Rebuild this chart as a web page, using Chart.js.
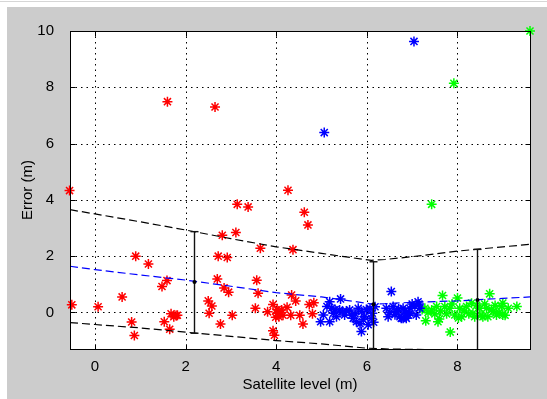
<!DOCTYPE html>
<html>
<head>
<meta charset="utf-8">
<script src="https://cdn.jsdelivr.net/npm/chart.js@4.4.1/dist/chart.umd.min.js"></script>
<style>
  html, body { margin: 0; padding: 0; background: #fff; }
  body { width: 547px; height: 399px; position: relative; overflow: hidden; }
  #topline { position: absolute; left: 0; top: 1px; width: 547px; height: 1px; background: #d6d6d6; }
  #frame { position: absolute; left: 7px; top: 7px; width: 540px; height: 392px; background: #cccccc; }
</style>
</head>
<body>
<div id="topline"></div>
<div id="frame"><canvas id="chart" width="540" height="392"></canvas></div>
<script>
/* ================= DATA ================= */
// [satellite level, error]
const redPoints = [
  [-0.56, 4.33], [-0.51, 0.27], [0.07, 0.2], [0.6, 0.55], [0.81, -0.34], [0.87, -0.82],
  [0.9, 2.0], [1.18, 1.72], [1.48, 0.92], [1.53, -0.33], [1.59, 1.13], [1.6, 7.49],
  [1.65, -0.6], [1.68, -0.05], [1.74, -0.15], [1.79, -0.11], [1.82, -0.1], [2.5, 0.41],
  [2.52, -0.03], [2.58, 0.23], [2.65, 7.3], [2.7, 1.19], [2.72, 2.0], [2.77, -0.41],
  [2.81, 2.74], [2.85, 0.87], [2.92, 1.95], [2.95, 0.72], [3.03, -0.1], [3.11, 2.84],
  [3.14, 3.84], [3.38, 3.75], [3.54, 0.15], [3.57, 1.14], [3.6, 0.68], [3.65, 2.28],
  [3.81, 0.02], [3.93, 0.28], [3.93, -0.65], [3.96, -0.81], [3.99, -0.17], [4.02, -0.03],
  [4.02, 0.1], [4.05, 0.0], [4.06, -0.15], [4.12, 0.09], [4.15, -0.1], [4.24, 0.18],
  [4.26, 4.34], [4.32, -0.1], [4.34, 0.62], [4.37, 2.23], [4.43, 0.41], [4.52, -0.1],
  [4.59, -0.41], [4.62, 3.56], [4.7, 3.11], [4.73, 0.28], [4.8, -0.05], [4.83, 0.34]
];

const bluePoints = [
  [4.98, -0.33], [5.04, -0.09], [5.06, 6.39], [5.12, 0.21], [5.18, 0.38], [5.18, -0.33],
  [5.22, 0.15], [5.26, -0.03], [5.3, 0.1], [5.33, -0.15], [5.4, 0.09], [5.42, 0.48],
  [5.46, 0.02], [5.51, -0.09], [5.55, 0.05], [5.62, 0.09], [5.66, -0.1], [5.7, -0.21],
  [5.74, -0.05], [5.77, -0.33], [5.81, 0.15], [5.85, -0.4], [5.88, 0.03], [5.88, -0.68],
  [5.92, -0.25], [5.95, -0.15], [5.99, 0.1], [6.03, -0.44], [6.07, 0.15], [6.1, -0.21],
  [6.12, -0.03], [6.15, -0.35], [6.18, 0.2], [6.43, 0.15], [6.47, -0.15], [6.5, 0.0],
  [6.54, 0.74], [6.58, 0.21], [6.62, -0.08], [6.65, 0.03], [6.7, 0.12], [6.73, -0.15],
  [6.76, -0.21], [6.8, 0.15], [6.8, -0.21], [6.84, 0.05], [6.87, -0.03], [6.87, -0.21],
  [6.92, -0.1], [6.95, 0.15], [6.95, -0.03], [7.0, 0.3], [7.04, 9.63], [7.06, 0.21],
  [7.09, -0.09], [7.13, 0.38], [7.17, 0.15], [7.15, 0.3]
];

const greenPoints = [
  [7.22, 0.1], [7.28, 0.15], [7.3, -0.3], [7.35, 0.0], [7.43, 0.09], [7.43, 3.84],
  [7.5, -0.05], [7.54, 0.21], [7.57, -0.33], [7.6, -0.23], [7.63, 0.05], [7.67, 0.6],
  [7.72, 0.21], [7.76, -0.05], [7.83, 0.15], [7.84, -0.7], [7.88, 0.3], [7.92, 8.14],
  [7.94, -0.09], [8.0, 0.51], [8.02, -0.2], [8.05, 0.15], [8.09, -0.15], [8.15, 0.05],
  [8.2, 0.21], [8.25, -0.05], [8.31, 0.33], [8.34, -0.03], [8.38, -0.15], [8.42, 0.25],
  [8.49, 0.15], [8.52, -0.1], [8.56, -0.15], [8.6, 0.3], [8.64, 0.15], [8.67, -0.15],
  [8.71, 0.66], [8.75, 0.1], [8.79, 0.03], [8.83, 0.25], [8.86, -0.09], [8.92, 0.0],
  [8.97, 0.21], [9.0, 0.33], [9.0, -0.09], [9.05, -0.1], [9.12, 0.15], [9.31, 0.21],
  [9.6, 10.0]
];

// fitted curve and its band
const meanCurve = [
  [-0.55, 1.64], [0, 1.52], [1, 1.33], [2, 1.15], [3, 0.93], [4, 0.7], [5, 0.55],
  [5.5, 0.44], [6.1, 0.3], [6.4, 0.31], [7, 0.36], [8, 0.41], [9, 0.5], [9.6, 0.55]
];
const upperCurve = [
  [-0.55, 3.65], [0, 3.5], [1, 3.22], [2, 2.93], [3, 2.62], [4, 2.33], [5, 2.1],
  [5.5, 1.98], [6.1, 1.85], [6.4, 1.88], [7, 1.98], [8, 2.18], [9, 2.33], [9.6, 2.42]
];
const lowerCurve = [
  [-0.55, -0.36], [0, -0.43], [1, -0.55], [2, -0.7], [3, -0.85], [4, -1.0], [5, -1.12],
  [6, -1.27], [6.5, -1.3], [7.3, -1.32], [8, -1.5], [9.6, -1.7]
];

// error bars
const errX = [2.18, 6.14, 8.42];
const errMid = [1.08, 0.29, 0.44];
const errLow = [-0.74, -1.6, -1.6];
const errHigh = [2.87, 1.8, 2.24];

const xTicks = [0, 2, 4, 6, 8];
const yTicks = [0, 2, 4, 6, 8, 10];

/* ================= HELPERS ================= */
const toXY = arr => arr.map(p => ({ x: p[0], y: p[1] }));

function starSet(points, color) {
  return {
    data: toXY(points),
    pointStyle: "star",
    pointRadius: 5,
    borderColor: color,
    backgroundColor: color,
    pointBorderWidth: 1.5,
    showLine: false,
    clip: false
  };
}

function dashSet(points, color) {
  return {
    data: toXY(points),
    showLine: true,
    pointRadius: 0,
    borderColor: color,
    borderWidth: 1.2,
    borderDash: [8, 4],
    tension: 0,
    clip: 0
  };
}

function seg(ctx, x1, y1, x2, y2) {
  ctx.beginPath();
  ctx.moveTo(x1, y1);
  ctx.lineTo(x2, y2);
  ctx.stroke();
}

/* ================= FRAME, GRID, ERROR BARS ================= */
const matlabAxes = {
  id: "matlabAxes",
  beforeDatasetsDraw(chart) {
    const { ctx, chartArea: a, scales: { x, y } } = chart;
    ctx.save();
    ctx.fillStyle = "#ffffff";
    ctx.fillRect(a.left, a.top, a.right - a.left, a.bottom - a.top);

    // dotted grid
    ctx.strokeStyle = "#000";
    ctx.lineWidth = 1;
    ctx.setLineDash([1.5, 4]);
    xTicks.forEach(v => {
      const px = Math.round(x.getPixelForValue(v)) + 0.5;
      seg(ctx, px, a.top, px, a.bottom);
    });
    yTicks.forEach(v => {
      const py = Math.round(y.getPixelForValue(v)) + 0.5;
      seg(ctx, a.left, py, a.right, py);
    });
    ctx.restore();
  },
  afterDatasetsDraw(chart) {
    const { ctx, chartArea: a, scales: { x, y } } = chart;
    ctx.save();

    // error bars, clipped to the plot box
    ctx.save();
    ctx.beginPath();
    ctx.rect(a.left, a.top, a.right - a.left, a.bottom - a.top);
    ctx.clip();
    ctx.strokeStyle = "#111";
    ctx.lineWidth = 1.4;
    errX.forEach((v, i) => {
      const px = Math.round(x.getPixelForValue(v)) + 0.5;
      const top = y.getPixelForValue(errHigh[i]);
      const bot = y.getPixelForValue(errLow[i]);
      seg(ctx, px, top, px, bot);
      seg(ctx, px - 4, top, px + 4, top);
      seg(ctx, px - 4, bot, px + 4, bot);
      ctx.fillStyle = "#000";
      ctx.beginPath();
      ctx.arc(px, y.getPixelForValue(errMid[i]), 2, 0, Math.PI * 2);
      ctx.fill();
    });
    ctx.restore();

    // box
    ctx.strokeStyle = "#000";
    ctx.lineWidth = 1;
    const L = Math.round(a.left) + 0.5, R = Math.round(a.right) + 0.5;
    const T = Math.round(a.top) + 0.5, B = Math.round(a.bottom) + 0.5;
    ctx.strokeRect(L, T, R - L, B - T);

    // inward ticks on all four sides
    const tl = 5;
    xTicks.forEach(v => {
      const px = Math.round(x.getPixelForValue(v)) + 0.5;
      seg(ctx, px, B, px, B - tl);
      seg(ctx, px, T, px, T + tl);
    });
    yTicks.forEach(v => {
      const py = Math.round(y.getPixelForValue(v)) + 0.5;
      seg(ctx, L, py, L + tl, py);
      seg(ctx, R, py, R - tl, py);
    });
    ctx.restore();
  }
};

/* ================= CHART ================= */
const font = { family: "'Liberation Sans', Arial, Helvetica, sans-serif", size: 15 };

new Chart(document.getElementById("chart"), {
  type: "scatter",
  data: {
    datasets: [
      dashSet(upperCurve, "#000000"),
      dashSet(lowerCurve, "#000000"),
      dashSet(meanCurve, "#0000ff"),
      starSet(redPoints, "#ff0000"),
      starSet(bluePoints, "#0000ff"),
      starSet(greenPoints, "#00ff00")
    ]
  },
  options: {
    responsive: false,
    animation: false,
    layout: { padding: { top: 24, right: 17, left: 0, bottom: 0 } },
    plugins: { legend: { display: false }, tooltip: { enabled: false } },
    scales: {
      x: {
        type: "linear",
        min: -0.55,
        max: 9.6,
        grid: { display: false },
        border: { display: false },
        ticks: {
          stepSize: 2,
          includeBounds: false,
          color: "#000",
          font: font,
          padding: 1,
          maxRotation: 0
        },
        title: {
          display: true,
          text: "Satellite level (m)",
          color: "#000",
          font: font,
          padding: { top: 0, bottom: 5 }
        },
        afterFit(scale) { scale.height = 50; }
      },
      y: {
        type: "linear",
        min: -1.3,
        max: 10,
        grid: { display: false },
        border: { display: false },
        ticks: {
          stepSize: 2,
          includeBounds: false,
          color: "#000",
          font: font,
          padding: 8
        },
        title: {
          display: true,
          text: "Error (m)",
          color: "#000",
          font: font,
          padding: { top: 12, bottom: 0 }
        },
        afterFit(scale) { scale.width = 63; }
      }
    }
  },
  plugins: [matlabAxes]
});
</script>
</body>
</html>
